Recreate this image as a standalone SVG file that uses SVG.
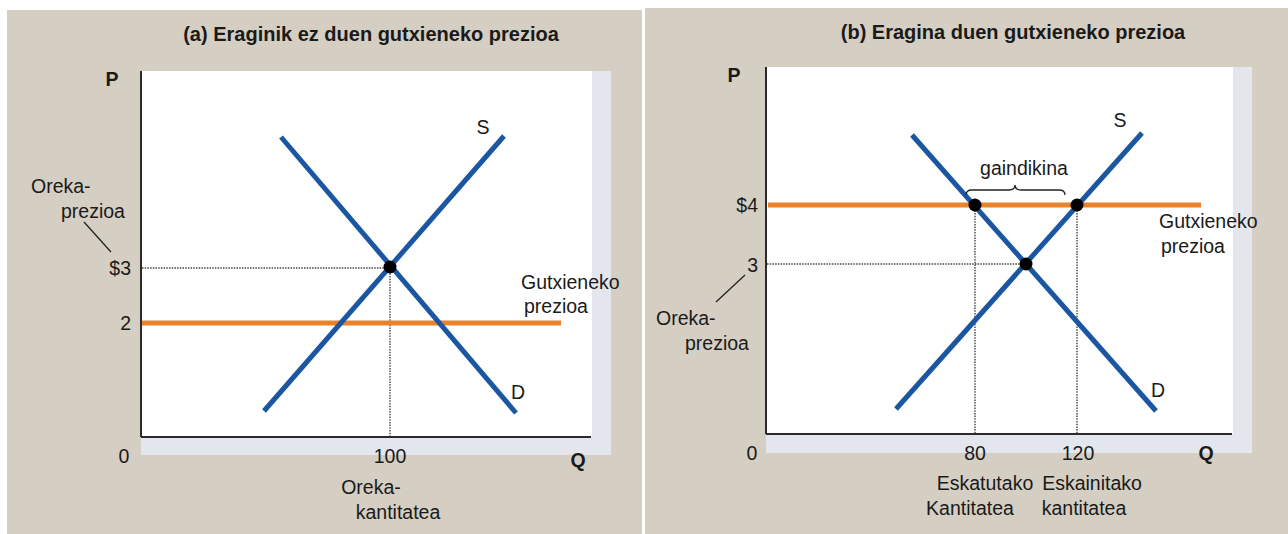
<svg xmlns="http://www.w3.org/2000/svg" width="1288" height="534" viewBox="0 0 1288 534">
<style>
.panel{fill:#d5cec2}
.strip{fill:#e3e6ec}
.plot{fill:#ffffff}
.axis{stroke:#2a2a2a;stroke-width:2;fill:none}
.dot{stroke:#444;stroke-width:1.4;stroke-dasharray:1.5 1.2;fill:none}
.curve{stroke:#1b56a2;stroke-width:5;fill:none}
.floor{stroke:#e8822b;stroke-width:5;fill:none}
.pt{fill:#000}
.lead{stroke:#222;stroke-width:1.3;fill:none}
text{font-family:"Liberation Sans",Arial,sans-serif;font-size:19.5px;fill:#1a1a1a}
.b{font-weight:bold}
.t{font-size:20px}
.m{text-anchor:middle}
.e{text-anchor:end}
</style>
<rect x="0" y="0" width="1288" height="534" fill="#ffffff"/>

<g id="panel-a">
  <rect class="panel" x="7" y="10" width="635" height="524"/>
  <rect class="strip" x="141" y="71" width="470" height="384"/>
  <rect class="plot" x="141" y="71" width="451" height="366"/>
  <text class="b m t" x="371" y="41">(a) Eraginik ez duen gutxieneko prezioa</text>
  <g id="a-axes">
    <line class="axis" x1="141" y1="71" x2="141" y2="437"/>
    <line class="axis" x1="141" y1="437" x2="591" y2="437"/>
    <text class="b m" x="112" y="86">P</text>
    <text class="b m" x="578" y="467">Q</text>
    <text class="m" x="124" y="463">0</text>
    <text class="m" x="390" y="463">100</text>
    <text class="e" x="131" y="275">$3</text>
    <text class="e" x="131" y="330">2</text>
  </g>
  <g id="a-connectors">
    <line class="dot" x1="142" y1="268" x2="390" y2="268"/>
    <line class="dot" x1="390" y1="268" x2="390" y2="436"/>
    <line class="floor" x1="142" y1="323" x2="561" y2="323"/>
    <line class="curve" x1="264" y1="411" x2="504" y2="136"/>
    <line class="curve" x1="281" y1="137" x2="516" y2="413"/>
    <line class="lead" x1="84" y1="222" x2="111" y2="252"/>
  </g>
  <g id="a-equilibrium"><circle class="pt" cx="390" cy="267" r="6.5"/></g>
  <g id="a-labels">
    <text class="m" x="483" y="134">S</text>
    <text class="m" x="518" y="399">D</text>
    <text x="31" y="193">Oreka-</text>
    <text x="61" y="218">prezioa</text>
    <text x="521" y="289">Gutxieneko</text>
    <text x="524" y="313">prezioa</text>
    <text class="m" x="371" y="494">Oreka-</text>
    <text class="m" x="398" y="519">kantitatea</text>
  </g>
</g>

<g id="panel-b">
  <rect class="panel" x="645" y="8" width="643" height="526"/>
  <rect class="strip" x="766" y="67" width="486" height="386"/>
  <rect class="plot" x="766" y="67" width="467" height="367"/>
  <text class="b m t" x="1013" y="39">(b) Eragina duen gutxieneko prezioa</text>
  <g id="b-axes">
    <line class="axis" x1="766" y1="67" x2="766" y2="434"/>
    <line class="axis" x1="766" y1="434" x2="1232" y2="434"/>
    <text class="b m" x="734" y="82">P</text>
    <text class="b m" x="1206" y="460">Q</text>
    <text class="m" x="752" y="460">0</text>
    <text class="m" x="975" y="460">80</text>
    <text class="m" x="1078" y="460">120</text>
    <text class="e" x="758" y="212">$4</text>
    <text class="e" x="758" y="272">3</text>
  </g>
  <g id="b-connectors">
    <line class="dot" x1="767" y1="264" x2="1026" y2="264"/>
    <line class="dot" x1="975" y1="205" x2="975" y2="433"/>
    <line class="dot" x1="1077" y1="205" x2="1077" y2="433"/>
    <line class="floor" x1="768" y1="205" x2="1201" y2="205"/>
    <line class="curve" x1="896" y1="409" x2="1142" y2="133"/>
    <line class="curve" x1="912" y1="135" x2="1156" y2="411"/>
    <line class="lead" x1="716" y1="302" x2="745" y2="275"/>
    <path class="lead" d="M966,195 Q966,190 972,190 L1009,190 Q1015,190 1015,185 Q1015,190 1021,190 L1059,190 Q1065,190 1065,195"/>
  </g>
  <g id="b-points">
    <circle class="pt" cx="975" cy="205" r="6.5"/>
    <circle class="pt" cx="1077" cy="205" r="6.5"/>
    <circle class="pt" cx="1026" cy="264" r="6.5"/>
  </g>
  <g id="b-labels">
    <text class="m" x="1120" y="127">S</text>
    <text class="m" x="1158" y="397">D</text>
    <text class="m" x="1024" y="175">gaindikina</text>
    <text x="1159" y="228">Gutxieneko</text>
    <text x="1161" y="253">prezioa</text>
    <text x="656" y="325">Oreka-</text>
    <text x="685" y="350">prezioa</text>
    <text class="m" x="985" y="490">Eskatutako</text>
    <text class="m" x="1092" y="490">Eskainitako</text>
    <text class="m" x="970" y="515">Kantitatea</text>
    <text class="m" x="1084" y="515">kantitatea</text>
  </g>
</g>
</svg>
